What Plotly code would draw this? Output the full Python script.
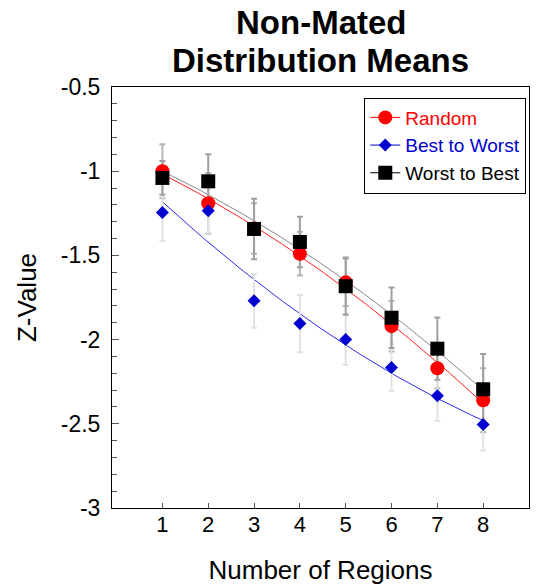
import numpy as np
import plotly.graph_objects as go

regions = [1, 2, 3, 4, 5, 6, 7, 8]
random_mean = [-1.00, -1.19, -1.34, -1.49, -1.66, -1.92, -2.17, -2.36]
random_err = [0.16, 0.18, 0.15, 0.13, 0.14, 0.15, 0.12, 0.19]
best_mean = [-1.245, -1.235, -1.77, -1.905, -2.00, -2.165, -2.333, -2.504]
best_err = [0.17, 0.13, 0.16, 0.17, 0.15, 0.14, 0.15, 0.155]
worst_mean = [-1.04, -1.06, -1.343, -1.42, -1.683, -1.87, -2.054, -2.295]
worst_err = [0.10, 0.16, 0.18, 0.15, 0.17, 0.18, 0.185, 0.21]

y_tickvals = [-3, -2.5, -2, -1.5, -1, -0.5]
y_ticktext = ["-3", "-2.5", "-2", "-1.5", "-1", "-0.5"]

FONT = "Liberation Sans, Arial, sans-serif"

series = [
    ("Random", random_mean, random_err, "#ff0000", "#ff2020", "#b4b4b4", "circle", 14),
    ("Best to Worst", best_mean, best_err, "#0000d0", "#2a2aee", "#e2e2e2", "diamond", 10),
    ("Worst to Best", worst_mean, worst_err, "#000000", "#8a8a8a", "#a0a0a0", "square", 14),
]

fig = go.Figure()
xs = np.array(regions, dtype=float)
xf = np.linspace(min(regions), max(regions), 100)

# fitted curves (quadratic fit of each series)
for name, mean, err, mcol, lcol, ecol, sym, size in series:
    coef = np.polyfit(xs, np.array(mean), 2)
    fig.add_trace(go.Scatter(x=xf, y=np.polyval(coef, xf), mode="lines",
                             line=dict(color=lcol, width=1), showlegend=False,
                             hoverinfo="skip"))

# error bars
for name, mean, err, mcol, lcol, ecol, sym, size in series:
    fig.add_trace(go.Scatter(x=regions, y=mean, mode="markers",
                             marker=dict(size=0.1, color="rgba(0,0,0,0)"),
                             error_y=dict(type="data", array=err, color=ecol,
                                          thickness=2, width=3),
                             showlegend=False, hoverinfo="skip"))

# markers
for name, mean, err, mcol, lcol, ecol, sym, size in series:
    fig.add_trace(go.Scatter(x=regions, y=mean, mode="markers", showlegend=False,
                             marker=dict(symbol=sym, size=size, color=mcol,
                                         line=dict(width=0))))

# legend entries (line through marker, coloured text)
for name, mean, err, mcol, lcol, ecol, sym, size in series:
    fig.add_trace(go.Scatter(x=[None], y=[None], mode="lines+markers",
                             name=f'<span style="color:{mcol}">{name}</span>',
                             marker=dict(symbol=sym, size=size, color=mcol,
                                         line=dict(width=0)),
                             line=dict(color=mcol, width=1)))

fig.update_layout(
    width=540, height=588,
    margin=dict(l=112, r=11, t=87, b=80),
    paper_bgcolor="white", plot_bgcolor="white",
    font=dict(family=FONT, color="black"),
    showlegend=True,
    legend=dict(x=0.605, xanchor="left", y=0.975, yanchor="top",
                bgcolor="white", bordercolor="black", borderwidth=1,
                font=dict(size=19, family=FONT),
                tracegroupgap=0, itemwidth=30),
)

fig.add_annotation(text="<b>Non-Mated</b>", xref="paper", yref="paper",
                   x=0.5, y=1, xanchor="center", yanchor="middle", yshift=65,
                   showarrow=False, font=dict(size=33, family=FONT, color="black"))
fig.add_annotation(text="<b>Distribution Means</b>", xref="paper", yref="paper",
                   x=0.5, y=1, xanchor="center", yanchor="middle", yshift=27,
                   showarrow=False, font=dict(size=33, family=FONT, color="black"))

fig.update_xaxes(range=[-0.1, 9], tickvals=regions, ticktext=[str(r) for r in regions],
                 ticks="inside", ticklen=5, tickcolor="#555", tickwidth=1,
                 ticklabelstandoff=-3, automargin=False,
                 showline=True, linecolor="black", linewidth=1, mirror=True,
                 showgrid=False, zeroline=False,
                 tickfont=dict(size=22, family=FONT),
                 title=dict(text="Number of Regions", font=dict(size=26, family=FONT),
                            standoff=24))
fig.update_yaxes(range=[-3, -0.5], tickvals=y_tickvals, ticktext=y_ticktext,
                 ticks="inside", ticklen=7, tickcolor="#555", tickwidth=1,
                 ticklabelstandoff=6, automargin=False,
                 minor=dict(ticks="inside", ticklen=5, dtick=0.1, tickcolor="#555"),
                 showline=True, linecolor="black", linewidth=1, mirror=True,
                 showgrid=False, zeroline=False,
                 tickfont=dict(size=23, family=FONT),
                 title=dict(text="Z-Value", font=dict(size=26, family=FONT),
                            standoff=16))

fig.write_html("out.html")
